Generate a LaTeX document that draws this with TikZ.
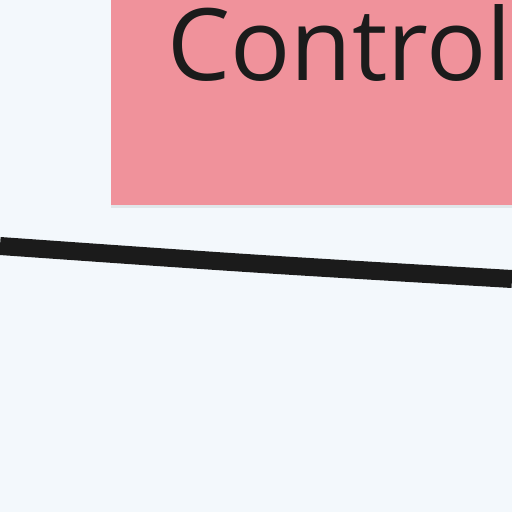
\documentclass[tikz,border=0pt]{standalone}
\usepackage{fontspec}
\setmainfont{Open Sans}
\usetikzlibrary{shadows}
\definecolor{canvasblue}{RGB}{243,248,252}
\definecolor{ctrlpink}{RGB}{240,146,155}
\definecolor{inkdark}{RGB}{27,27,27}
\tikzset{
 ctrlbox/.style={rectangle,fill=ctrlpink,text=inkdark,inner xsep=56pt,inner ysep=0pt,text height=200pt,text depth=125pt,font=\fontsize{100}{120}\selectfont,drop shadow={shadow xshift=0pt,shadow yshift=-3pt,opacity=0.12,fill=black!60}},
 wire/.style={line width=18pt,draw=inkdark}}

\begin{document}
\begin{tikzpicture}[x=1pt,y=-1pt]
\useasboundingbox (0,0) rectangle (512,512);
\clip (0,0) rectangle (512,512);
\fill[canvasblue] (0,0) rectangle (512,512);
\node[ctrlbox,anchor=base west] (control) at (111,80) {Control};
\coordinate (wirein) at (0,246);
\coordinate (wireout) at (512,279);
\draw[wire] (wirein) .. controls (256,264) .. (wireout);
\end{tikzpicture}
\end{document}
